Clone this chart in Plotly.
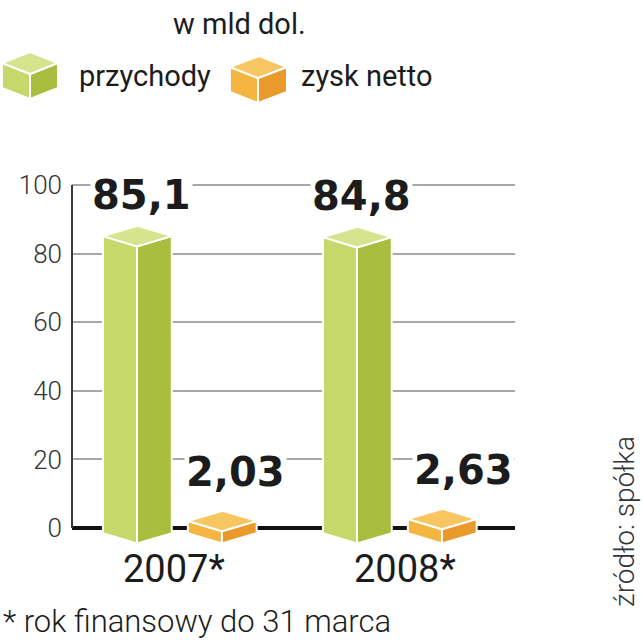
import plotly.graph_objects as go

# ---------------- data ----------------
years = ["2007*", "2008*"]
revenue = [85.1, 84.8]          # przychody
net_profit = [2.03, 2.63]       # zysk netto
revenue_labels = ["85,1", "84,8"]
profit_labels = ["2,03", "2,63"]
y_ticks = [0, 20, 40, 60, 80, 100]
series_names = ["przychody", "zysk netto"]
unit_title = "w mld dol."
footnote = "* rok finansowy do 31 marca"
source = "źródło: spółka"

# ---------------- styles ----------------
GREEN = dict(front="#c6d86a", side="#a9bd3f", top="#d6e48e")
ORANGE = dict(front="#f4b640", side="#e99a2b", top="#f8c660")
TXT = "#1c1c1c"
FONT = "Roboto"

W, H = 642, 640
PX_L, PX_R = 72, 515
PY_100, PY_0 = 185, 528
Y_MIN, Y_MAX = -5, 100.5
ppu = (PY_0 - PY_100) / 100.0
py_top = PY_0 - Y_MAX * ppu
py_bot = PY_0 - Y_MIN * ppu
GROUP_PX = 220.0
X_MIN = -0.2955
X_MAX = X_MIN + (PX_R - PX_L) / GROUP_PX

W_FRONT = 0.155     # front face width (x units)
W_SIDE = 0.158      # side face width
ORANGE_OFF = 0.386  # orange box offset from green box
DEPTH = 3.0         # isometric drop (y units)
BASE = -1.5         # base of the boxes (y units)


def box_polys(xc, wl, wr, v, base, d):
    L, R, Bk = xc - wl, xc + wr, xc - wl + wr
    front = [(L, base), (L, v), (xc, v - d), (xc, base - d)]
    side = [(xc, base - d), (xc, v - d), (R, v), (R, base)]
    top = [(L, v), (Bk, v + d), (R, v), (xc, v - d)]
    return front, side, top


fig = go.Figure()


def add_box(xc, v, colors):
    front, side, top = box_polys(xc, W_FRONT, W_SIDE, v, BASE, DEPTH)
    for poly, key in ((front, "front"), (side, "side"), (top, "top")):
        xs = [p[0] for p in poly] + [poly[0][0]]
        ys = [p[1] for p in poly] + [poly[0][1]]
        fig.add_trace(go.Scatter(
            x=xs, y=ys, mode="lines", fill="toself",
            fillcolor=colors[key], line=dict(color="white", width=2),
            hoverinfo="skip", showlegend=False))


def px(x):
    return x / W


def py(y):
    return 1 - y / H


annotations = []
for i, yr in enumerate(years):
    add_box(i, revenue[i], GREEN)
    add_box(i + ORANGE_OFF, net_profit[i], ORANGE)
    annotations.append(dict(
        x=i + 0.02, y=revenue[i] + DEPTH, xref="x", yref="y",
        text=revenue_labels[i], showarrow=False, yanchor="bottom", yshift=6,
        font=dict(family="DejaVu Sans", size=40, color=TXT, weight="bold"),
        bgcolor="white"))
    annotations.append(dict(
        x=i + ORANGE_OFF + 0.06 + 0.04 * i, y=net_profit[i] + DEPTH, xref="x", yref="y",
        text=profit_labels[i], showarrow=False, yanchor="bottom", yshift=14,
        font=dict(family="DejaVu Sans", size=40, color=TXT, weight="bold"),
        bgcolor="white"))
    # category label under each group
    annotations.append(dict(
        x=i + ORANGE_OFF / 2 - 0.025 + 0.05 * i, y=0, xref="x", yref="y",
        text=yr, showarrow=False, xanchor="center", yanchor="middle", yshift=-41,
        font=dict(family=FONT, size=38, color=TXT)))

# title + legend + footnote + source
annotations += [
    dict(x=px(239), y=py(24), xref="paper", yref="paper", text=unit_title,
         showarrow=False, xanchor="center", yanchor="middle",
         font=dict(family=FONT, size=29, color=TXT)),
    dict(x=px(77), y=py(76), xref="paper", yref="paper", text=series_names[0],
         showarrow=False, xanchor="left", yanchor="middle",
         font=dict(family=FONT, size=29, color=TXT)),
    dict(x=px(299), y=py(76), xref="paper", yref="paper", text=series_names[1],
         showarrow=False, xanchor="left", yanchor="middle",
         font=dict(family=FONT, size=29, color=TXT)),
    dict(x=px(1), y=py(621), xref="paper", yref="paper", text=footnote,
         showarrow=False, xanchor="left", yanchor="middle",
         font=dict(family=FONT, size=31, color=TXT, weight=300)),
    dict(x=px(624), y=py(522), xref="paper", yref="paper", text=source,
         showarrow=False, xanchor="center", yanchor="middle", textangle=-90,
         font=dict(family=FONT, size=28, color="#333333", weight=300)),
]

shapes = []


def legend_cube(xc, wl, wr, top_y, bot_y, d, colors):
    front, side, top = box_polys(xc, wl, wr, top_y, bot_y, -d)
    for poly, key in ((front, "front"), (side, "side"), (top, "top")):
        path = "M " + " L ".join(f"{px(a):.5f},{py(b):.5f}" for a, b in poly) + " Z"
        shapes.append(dict(type="path", path=path, xref="paper", yref="paper",
                           fillcolor=colors[key], line=dict(color="white", width=2),
                           layer="above"))


legend_cube(30, 28, 28, 63, 88, 11, GREEN)
legend_cube(258, 28, 29, 67, 92, 11, ORANGE)

# vertical axis line from 0 to 100
shapes.append(dict(type="line", xref="paper", x0=px(PX_L), x1=px(PX_L),
                   yref="y", y0=0, y1=100,
                   line=dict(color="#3a3a3a", width=2), layer="above"))

fig.update_layout(
    width=W, height=H,
    margin=dict(l=0, r=0, t=0, b=0, autoexpand=False),
    paper_bgcolor="white", plot_bgcolor="rgba(0,0,0,0)",
    showlegend=False,
    annotations=annotations, shapes=shapes,
    xaxis=dict(domain=[PX_L / W, PX_R / W], range=[X_MIN, X_MAX],
               showticklabels=False, showgrid=False, zeroline=False,
               showline=False, ticks=""),
    yaxis=dict(domain=[1 - py_bot / H, 1 - py_top / H], range=[Y_MIN, Y_MAX],
               tickvals=y_ticks, showgrid=True, gridcolor="#a8a8a8", gridwidth=2,
               zeroline=True, zerolinecolor="#111111", zerolinewidth=4,
               showline=False, ticks="", ticklabelstandoff=9,
               tickfont=dict(family=FONT, size=26, color="#333333", weight=300)),
)

fig.write_html("out.html", config={"displayModeBar": False},
               post_script="document.body.style.margin='0px';")
